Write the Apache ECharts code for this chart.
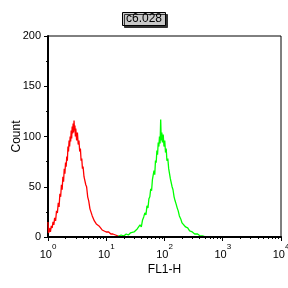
<!DOCTYPE html>
<html>
<head>
<meta charset="utf-8">
<script src="https://cdn.jsdelivr.net/npm/echarts@6/dist/echarts.min.js"></script>
<style>
  html, body { margin: 0; padding: 0; background: #fff; }
  #histChart { width: 288px; height: 288px; }
</style>
</head>
<body>
<div id="histChart"></div>
<script>
// FL1-H intensity (log axis) and event counts
const redIntensity = [1.00, 1.02, 1.05, 1.08, 1.10, 1.14, 1.18, 1.22, 1.26, 1.30, 1.35, 1.40, 1.45, 1.50, 1.55, 1.60, 1.65, 1.70, 1.75, 1.80, 1.85, 1.90, 1.95, 2.00, 2.05, 2.10, 2.15, 2.20, 2.25, 2.30, 2.35, 2.40, 2.45, 2.50, 2.55, 2.60, 2.65, 2.70, 2.75, 2.80, 2.85, 2.90, 2.95, 3.00, 3.10, 3.20, 3.30, 3.40, 3.50, 3.60, 3.70, 3.80, 3.90, 4.00, 4.15, 4.30, 4.45, 4.60, 4.80, 5.00, 5.25, 5.50, 5.75, 6.00, 6.25, 6.50, 6.75, 7.00, 7.50, 8.00, 8.50, 9.00, 10, 11, 12, 13, 14, 16, 18, 20, 22];
const redCount = [15, 4, 6, 9, 5, 11, 9, 15, 12, 19, 16, 26, 24, 34, 30, 43, 40, 52, 47, 60, 55, 68, 63, 74, 70, 80, 76, 90, 85, 96, 90, 100, 95, 106, 98, 110, 103, 113, 104, 116, 106, 111, 100, 108, 96, 104, 92, 96, 85, 88, 76, 78, 68, 70, 60, 61, 52, 50, 40, 36, 28, 27, 21, 21, 16, 17, 13, 14, 11, 10, 7, 8, 5, 5, 3, 3, 2, 1, 0, 1, 0];

const greenIntensity = [15, 18, 20, 22, 24, 26, 28, 30, 32, 34, 36, 38, 40, 42, 44, 46, 48, 50, 52, 54, 56, 58, 60, 62, 64, 66, 68, 70, 72, 74, 76, 78, 80, 82, 84, 86, 88, 90, 92, 95, 98, 101, 104, 107, 110, 114, 118, 122, 126, 130, 135, 140, 146, 152, 158, 165, 172, 180, 190, 200, 215, 230, 250, 270, 300, 330, 370, 410, 460, 520];
const greenCount = [0, 2, 1, 3, 2, 4, 3, 5, 4, 8, 7, 12, 10, 17, 20, 24, 22, 31, 29, 38, 40, 48, 46, 57, 56, 66, 62, 76, 74, 86, 82, 94, 90, 100, 93, 117, 96, 104, 94, 102, 90, 96, 84, 88, 76, 78, 68, 68, 58, 58, 50, 47, 40, 36, 33, 29, 26, 21, 18, 14, 13, 10, 9, 6, 5, 3, 3, 1, 1, 0];

const decadeTicks = [1, 10, 100, 1000, 10000];
const minorTicks = [2, 3, 4, 5, 6, 7, 8, 9, 20, 30, 40, 50, 60, 70, 80, 90, 200, 300, 400, 500, 600, 700, 800, 900, 2000, 3000, 4000, 5000, 6000, 7000, 8000, 9000];
const countTicks = [0, 50, 100, 150, 200];

const chartDom = document.getElementById("histChart");
const chart = echarts.init(chartDom, null, { renderer: "canvas" });

const font = "Arial, 'Liberation Sans', sans-serif";

function pairs(xs, ys) {
  return xs.map((x, i) => [x, ys[i]]);
}

const option = {
  animation: false,
  backgroundColor: "#fff",
  title: {
    text: "c6.028",
    left: "center",
    top: 12,
    padding: [1, 4, 1, 4],
    backgroundColor: "#c8c8c8",
    borderColor: "#000",
    borderWidth: 1,
    shadowColor: "#333",
    shadowBlur: 0,
    shadowOffsetX: 2,
    shadowOffsetY: 2,
    textStyle: {
      fontFamily: font,
      fontSize: 12,
      fontWeight: "normal",
      color: "#000",
    },
  },
  grid: {
    left: 48,
    right: 7,
    top: 36,
    bottom: 51,
    containLabel: false,
    outerBoundsMode: "none",
    show: true,
    borderColor: "#000",
    borderWidth: 1,
    backgroundColor: "#fff",
  },
  xAxis: [
    {
      type: "log",
      logBase: 10,
      min: 1,
      max: 10000,
      name: "FL1-H",
      nameLocation: "middle",
      nameGap: 27,
      nameMoveOverlap: false,
      nameTextStyle: { fontFamily: font, fontSize: 12, color: "#000" },
      axisLine: { show: true, lineStyle: { color: "#000", width: 2 } },
      axisTick: { show: true, length: 4, lineStyle: { color: "#000" }, customValues: decadeTicks },
      splitLine: { show: false },
      axisLabel: {
        margin: 6,
        customValues: decadeTicks,
        formatter: function (v) {
          return "{b|10}{s|" + Math.round(Math.log10(v)) + "}";
        },
        rich: {
          b: { fontFamily: font, fontSize: 11, color: "#000", verticalAlign: "bottom", lineHeight: 17 },
          s: { fontFamily: font, fontSize: 8, color: "#000", verticalAlign: "top", lineHeight: 17 },
        },
      },
      z: 5,
    },
    {
      type: "log",
      logBase: 10,
      min: 1,
      max: 10000,
      gridIndex: 0,
      position: "bottom",
      axisLine: { show: false },
      axisTick: { show: true, length: 2, lineStyle: { color: "#000" }, customValues: minorTicks },
      axisLabel: { show: false },
      splitLine: { show: false },
    },
  ],
  yAxis: {
    type: "value",
    min: 0,
    max: 200,
    interval: 50,
    name: "Count",
    nameLocation: "middle",
    nameGap: 25,
    nameMoveOverlap: false,
    nameTextStyle: { fontFamily: font, fontSize: 12, color: "#000" },
    axisLine: { show: true, lineStyle: { color: "#000", width: 2 } },
    axisTick: { show: true, length: 4, lineStyle: { color: "#000" } },
    minorTick: { show: true, splitNumber: 2, length: 2, lineStyle: { color: "#000" } },
    splitLine: { show: false },
    axisLabel: {
      margin: 7,
      fontFamily: font,
      fontSize: 11,
      color: "#000",
      customValues: countTicks,
    },
  },
  series: [
    {
      name: "red",
      type: "line",
      showSymbol: false,
      data: pairs(redIntensity, redCount),
      lineStyle: { color: "#ff0000", width: 1.3 },
      itemStyle: { color: "#ff0000" },
      z: 3,
    },
    {
      name: "green",
      type: "line",
      showSymbol: false,
      data: pairs(greenIntensity, greenCount),
      lineStyle: { color: "#00ff00", width: 1.3 },
      itemStyle: { color: "#00ff00" },
      z: 3,
    },
  ],
};

chart.setOption(option);
</script>
</body>
</html>
